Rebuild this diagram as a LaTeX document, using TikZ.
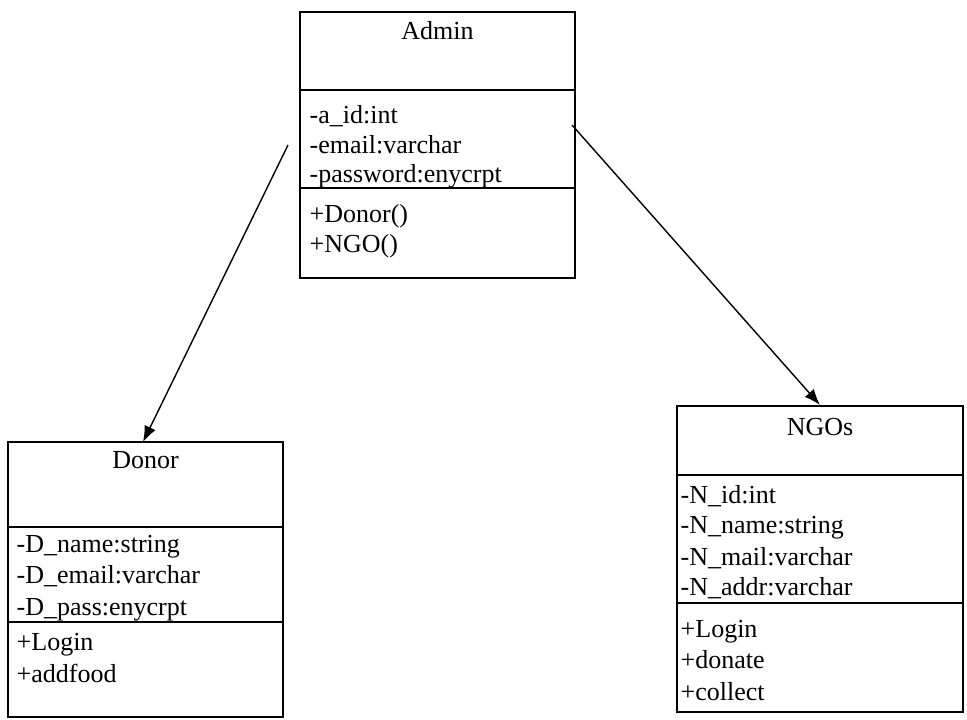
\documentclass[tikz,border=0pt]{standalone}
\usepackage{fontspec}
\setmainfont{Liberation Serif}
\usetikzlibrary{arrows.meta}
\begin{document}
\begin{tikzpicture}[x=0.5pt,y=-0.5pt,line width=0.7pt,
    title/.style={anchor=base,inner sep=0pt,font=\fontsize{13}{15}\selectfont},
    member/.style={anchor=base west,inner sep=0pt,font=\fontsize{13}{15}\selectfont}]
    \useasboundingbox (0,0) rectangle (967,719);
            \begin{scope}[shift={(300,12)}]
                \draw (0,0) rectangle (275,266);
                \draw (0,78) -- (275,78);
                \draw (0,176) -- (275,176);
                \node[title] (admin) at (137.5,27) {Admin};
                \node[member] (a1) at (9,111) {-a\_id:int};
                \node[member] (a2) at (9,141) {-email:varchar};
                \node[member] (a3) at (9,170) {-password:enycrpt};
                \node[member] (a4) at (9,210) {+Donor()};
                \node[member] (a5) at (9,240) {+NGO()};
            \end{scope}
            \begin{scope}[shift={(8,442)}]
                \draw (0,0) rectangle (275,275);
                \draw (0,85) -- (275,85);
                \draw (0,180) -- (275,180);
                \node[title] (donor) at (137.5,26) {Donor};
                \node[member] (d1) at (8,110) {-D\_name:string};
                \node[member] (d2) at (8,141) {-D\_email:varchar};
                \node[member] (d3) at (8,173) {-D\_pass:enycrpt};
                \node[member] (d4) at (8,208) {+Login};
                \node[member] (d5) at (8,240) {+addfood};
            \end{scope}
            \begin{scope}[shift={(677,406)}]
                \draw (0,0) rectangle (286,306);
                \draw (0,69) -- (286,69);
                \draw (0,197) -- (286,197);
                \node[title] (ngos) at (143,29) {NGOs};
                \node[member] (n1) at (3,97) {-N\_id:int};
                \node[member] (n2) at (3,127) {-N\_name:string};
                \node[member] (n3) at (3,159) {-N\_mail:varchar};
                \node[member] (n4) at (3,189) {-N\_addr:varchar};
                \node[member] (n5) at (3,231) {+Login};
                \node[member] (n6) at (3,262) {+donate};
                \node[member] (n7) at (3,294) {+collect};
            \end{scope}
            \coordinate (adminL) at (288,145);
            \coordinate (donorT) at (143,442);
            \coordinate (adminR) at (572,125);
            \coordinate (ngosT) at (820,405);
            \draw[-{Latex[length=8pt,width=6pt]}] (adminL) -- (donorT);
            \draw[-{Latex[length=8pt,width=6pt]}] (adminR) -- (ngosT);
        \end{tikzpicture}
\end{document}
